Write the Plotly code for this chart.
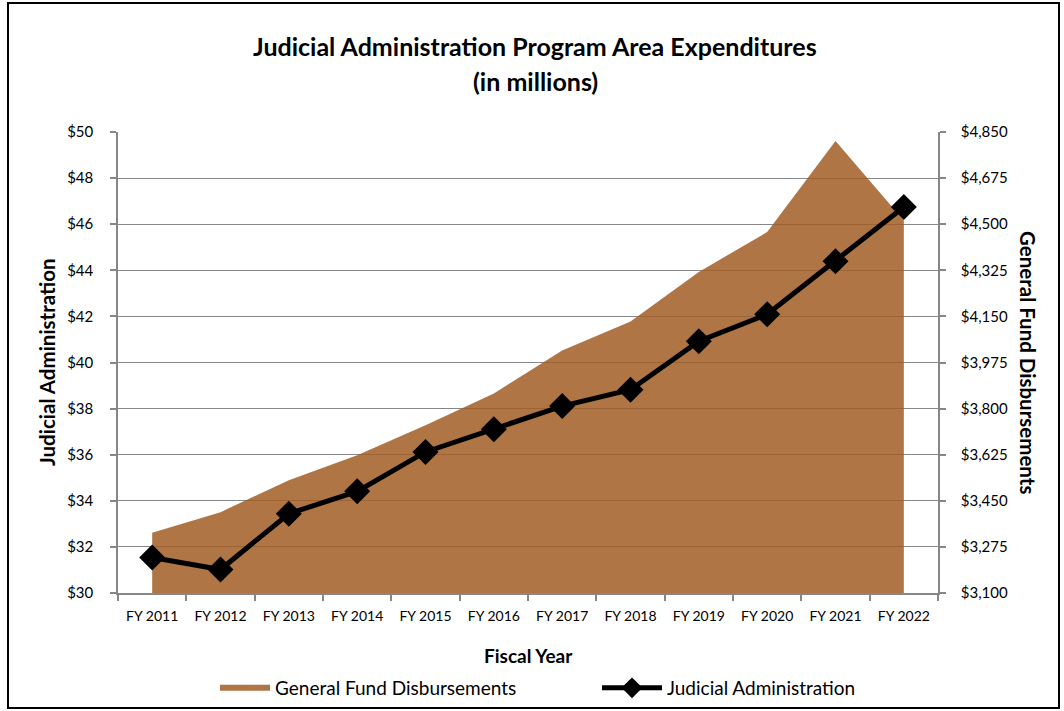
import plotly.graph_objects as go

years = ["FY 2011", "FY 2012", "FY 2013", "FY 2014", "FY 2015", "FY 2016",
         "FY 2017", "FY 2018", "FY 2019", "FY 2020", "FY 2021", "FY 2022"]
general_fund = [3329, 3407, 3528, 3623, 3737, 3857, 4021, 4131, 4319, 4470, 4816, 4514]
judicial_admin = [31.54, 31.02, 33.44, 34.41, 36.12, 37.10, 38.11, 38.82, 40.92, 42.09, 44.39, 46.75]

left_ticks = list(range(30, 51, 2))
left_labels = ["$%d" % v for v in left_ticks]
right_ticks = [3100 + 175 * i for i in range(11)]
right_labels = ["${:,}".format(v) for v in right_ticks]

FONT = "Lato, Roboto, sans-serif"

fig = go.Figure()
fig.add_trace(go.Scatter(
    x=years, y=general_fund, name="General Fund Disbursements",
    mode="none", fill="tozeroy", fillcolor="rgba(162,93,36,0.85)",
    yaxis="y", xaxis="x", legend="legend"))
fig.add_trace(go.Scatter(
    x=years, y=judicial_admin, name="Judicial Administration",
    mode="lines+markers", line=dict(color="black", width=5),
    marker=dict(symbol="diamond", size=20, color="black"),
    yaxis="y2", xaxis="x", legend="legend2"))

L, R, T, B = 118, 1064 - 938, 132, 711 - 593
W, H = 1064 - L - R, 711 - T - B

def px_x(p):
    return (p - L) / W

def px_y(p):
    return (711 - B - p) / H

grey = "#878787"
fig.update_layout(
    width=1064, height=711,
    margin=dict(l=L, r=R, t=T, b=B, pad=0, autoexpand=False),
    paper_bgcolor="white", plot_bgcolor="white",
    font=dict(family=FONT, color="black", size=14),
    showlegend=True,
    legend=dict(orientation="h", x=px_x(215), xanchor="left",
                y=px_y(688), yanchor="middle",
                font=dict(size=19, family=FONT), itemwidth=50,
                bgcolor="rgba(0,0,0,0)"),
    legend2=dict(orientation="h", x=px_x(597), xanchor="left",
                 y=px_y(688), yanchor="middle",
                 font=dict(size=19, family=FONT), itemwidth=60,
                 bgcolor="rgba(0,0,0,0)"),
    xaxis=dict(type="category", range=[-0.5, 11.5], showgrid=False,
               showline=True, linecolor=grey, linewidth=1.5,
               ticks="outside", tickson="boundaries", ticklen=6,
               tickcolor=grey, tickwidth=1.5,
               tickfont=dict(size=14, family=FONT), ticklabelstandoff=9),
    yaxis=dict(side="right", range=[3100, 4850], tickvals=right_ticks,
               ticktext=right_labels, showgrid=True,
               gridcolor=grey, gridwidth=1.2,
               showline=True, linecolor=grey, linewidth=1.5,
               ticks="outside", ticklen=6, tickcolor=grey, tickwidth=1.5,
               tickfont=dict(size=15, family=FONT), ticklabelstandoff=12,
               zeroline=False),
    yaxis2=dict(side="left", overlaying="y", range=[30, 50],
                tickvals=left_ticks, ticktext=left_labels, showgrid=False,
                showline=True, linecolor=grey, linewidth=1.5,
                ticks="outside", ticklen=6, tickcolor=grey, tickwidth=1.5,
                tickfont=dict(size=15, family=FONT), ticklabelstandoff=14,
                zeroline=False),
    annotations=[
        dict(text="<b>Judicial Administration Program Area Expenditures</b>",
             xref="paper", yref="paper", x=px_x(535), y=px_y(46),
             showarrow=False, font=dict(size=25, family=FONT),
             xanchor="center", yanchor="middle"),
        dict(text="<b>(in millions)</b>",
             xref="paper", yref="paper", x=px_x(535), y=px_y(81),
             showarrow=False, font=dict(size=25, family=FONT),
             xanchor="center", yanchor="middle"),
        dict(text="<b>Judicial Administration</b>",
             xref="paper", yref="paper", x=px_x(47), y=px_y(362),
             showarrow=False, textangle=-90, font=dict(size=20.5, family=FONT),
             xanchor="center", yanchor="middle"),
        dict(text="<b>General Fund Disbursements</b>",
             xref="paper", yref="paper", x=px_x(1028), y=px_y(362),
             showarrow=False, textangle=90, font=dict(size=20.5, family=FONT),
             xanchor="center", yanchor="middle"),
        dict(text="<b>Fiscal Year</b>",
             xref="paper", yref="paper", x=px_x(528), y=px_y(655),
             showarrow=False, font=dict(size=19, family=FONT),
             xanchor="center", yanchor="middle"),
    ],
    shapes=[dict(type="rect", xref="paper", yref="paper",
                 x0=px_x(8), x1=px_x(1059), y0=px_y(708), y1=px_y(3),
                 line=dict(color="black", width=2), fillcolor="rgba(0,0,0,0)",
                 layer="above")],
)

fig.write_html("out.html", config={"displayModeBar": False},
               post_script="document.body.style.margin='0';document.body.style.padding='0';")
